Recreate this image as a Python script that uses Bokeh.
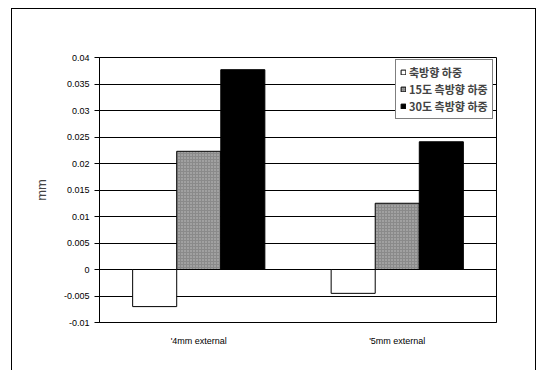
from bokeh.plotting import figure
from bokeh.models import FactorRange, FixedTicker, CustomJSTickFormatter, Legend, LegendItem, ColumnDataSource
from bokeh.transform import dodge
from bokeh.embed import file_html
from bokeh.resources import INLINE

categories = ["'4mm external", "'5mm external"]
series_names = ["축방향 하중", "15도 측방향 하중", "30도 측방향 하중"]
axial = [-0.0070, -0.0045]
lateral15 = [0.0223, 0.0125]
lateral30 = [0.0377, 0.0241]
y_ticks = [-0.01, -0.005, 0, 0.005, 0.01, 0.015, 0.02, 0.025, 0.03, 0.035, 0.04]

src = ColumnDataSource(dict(cat=categories, a=axial, b=lateral15, c=lateral30))

p = figure(x_range=FactorRange(factors=categories), y_range=(-0.01, 0.04),
           width=525, height=362, output_backend="svg", toolbar_location=None,
           min_border_left=87, min_border_right=41, min_border_top=48, min_border_bottom=49)
p.styles = {"border-top": "1px solid black", "border-left": "1px solid black",
            "border-right": "1px solid black", "margin-left": "11px", "margin-top": "8px"}

bw = 0.222
r1 = p.vbar(x=dodge("cat", -bw, range=p.x_range), top="a", bottom=0, width=bw, source=src,
            fill_color="white", line_color="black", line_width=1)
r2 = p.vbar(x=dodge("cat", 0, range=p.x_range), top="b", bottom=0, width=bw, source=src,
            fill_color="#8a8a8a", line_color="black", line_width=1,
            hatch_pattern="dot", hatch_color="#dddddd", hatch_scale=3, hatch_alpha=0.7)
r3 = p.vbar(x=dodge("cat", bw, range=p.x_range), top="c", bottom=0, width=bw, source=src,
            fill_color="black", line_color="black", line_width=1)

p.yaxis.ticker = FixedTicker(ticks=y_ticks)
p.yaxis.formatter = CustomJSTickFormatter(code="return parseFloat(tick.toFixed(3)).toString();")
p.yaxis.axis_label = "mm"
p.yaxis.axis_label_text_font = "Liberation Sans"
p.yaxis.axis_label_text_font_style = "normal"
p.yaxis.axis_label_text_font_size = "13px"
p.yaxis.axis_label_standoff = 12
p.yaxis.major_label_text_font = "Liberation Sans"
p.yaxis.major_label_text_font_size = "9px"
p.yaxis.major_label_text_color = "black"
p.yaxis.major_tick_out = 5
p.yaxis.major_tick_in = 0
p.yaxis.minor_tick_out = 0
p.yaxis.minor_tick_in = 0
p.yaxis.major_label_standoff = 5
p.yaxis.axis_line_color = "black"
p.yaxis.major_tick_line_color = "black"

p.xaxis.major_label_text_font = "Liberation Sans"
p.xaxis.major_label_text_font_size = "9px"
p.xaxis.major_label_text_color = "black"
p.xaxis.major_tick_line_color = None
p.xaxis.minor_tick_line_color = None
p.xaxis.major_label_standoff = 7
p.xaxis.axis_line_color = "black"

p.xgrid.grid_line_color = None
p.ygrid.grid_line_color = "black"
p.ygrid.grid_line_width = 1
p.outline_line_color = "black"
p.outline_line_width = 1

legend = Legend(items=[LegendItem(label=series_names[0], renderers=[r1]),
                       LegendItem(label=series_names[1], renderers=[r2]),
                       LegendItem(label=series_names[2], renderers=[r3])],
                location=(296, 203))
legend.label_text_font = "Noto Sans CJK KR"
legend.label_text_font_size = "11px"
legend.label_text_font_style = "bold"
legend.label_height = 14
legend.glyph_height = 6
legend.glyph_width = 6
legend.spacing = 1
legend.padding = 4
legend.margin = 0
legend.label_standoff = 3
legend.border_line_color = "black"
legend.border_line_width = 1
legend.background_fill_color = "white"
legend.background_fill_alpha = 1
p.add_layout(legend, "center")

open("out.html", "w").write(file_html(p, INLINE))
